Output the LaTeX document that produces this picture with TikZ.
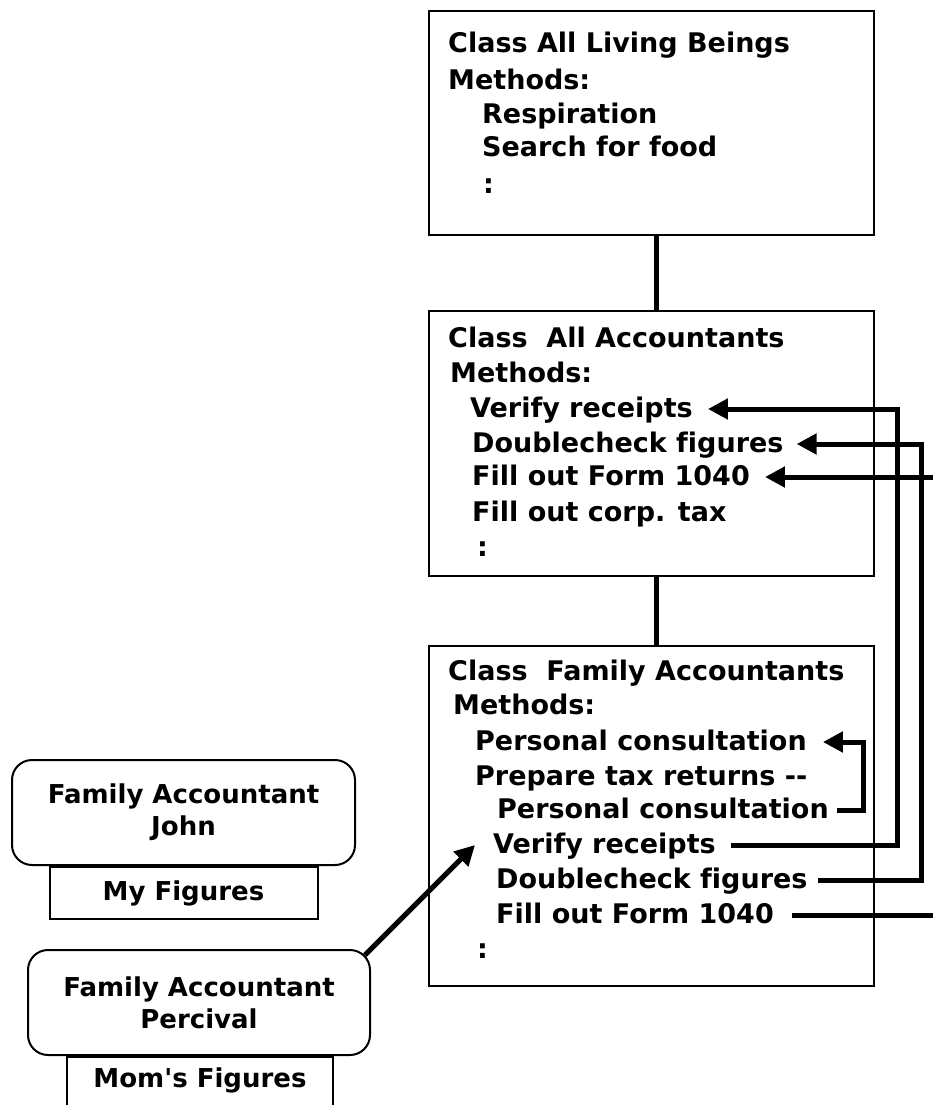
\documentclass[tikz,border=0pt]{standalone}
\usepackage{fontspec}
\newfontfamily\chifont{DejaVu Sans}[Ligatures=NoCommon]
\usetikzlibrary{arrows.meta,positioning}
\tikzset{
  classbox/.style={draw,line width=2.4pt,anchor=north west,inner sep=0pt},
  meth/.style={anchor=base west,inner sep=0pt,text height=20pt,text depth=4pt,
    font=\chifont\bfseries\fontsize{27}{32}\selectfont},
  objbox/.style={draw,line width=2pt,rounded corners=20pt,align=center,inner sep=0pt,
    font=\chifont\bfseries\fontsize{26}{32}\selectfont},
  figbox/.style={draw,line width=2pt,align=center,inner sep=0pt,
    font=\chifont\bfseries\fontsize{26}{32}\selectfont},
  figlbl/.style={inner sep=0pt,font=\chifont\bfseries\fontsize{26}{32}\selectfont},
  tie/.style={line width=5pt},
  call/.style={line width=5pt,-{Triangle[length=20pt,width=20pt]}},
}
\begin{document}
\begin{tikzpicture}[x=1pt,y=-1pt]
  \useasboundingbox (0,0) rectangle (932,1105);
  % class hierarchy
  \node[classbox,minimum width=445pt,minimum height=224pt](living) at (428,10){};
  \node[classbox,minimum width=445pt,minimum height=265pt](acct) at (428,310){};
  \node[classbox,minimum width=445pt,minimum height=340pt](family) at (428,645){};
  \draw[tie]([xshift=5pt]living.south)--([xshift=5pt]acct.north);
  \draw[tie]([xshift=5pt]acct.south)--([xshift=5pt]family.north);
  % All Living Beings
  \node[meth](lvname) at (448,53){Class All Living Beings};
  \node[meth](lvhead) at (448,90){Methods:};
  \node[meth](lvresp) at (482,124){Respiration};
  \node[meth](lvfood) at (482,157){Search for food};
  \node[meth](lvmore) at (483,193){:};
  % All Accountants
  \node[meth](acname) at (448,347){Class~ All Accountants};
  \node[meth](achead) at (450,382){Methods:};
  \node[meth](acverify) at (470,417){Verify receipts};
  \node[meth](acdouble) at (472,452){Doublecheck figures};
  \node[meth](acform) at (472,485){Fill out Form 1040};
  \node[meth](accorp) at (472,521){Fill out corp. tax};
  \node[meth](acmore) at (477,556){:};
  % Family Accountants
  \node[meth](faname) at (448,680){Class~ Family Accountants};
  \node[meth](fahead) at (453,714){Methods:};
  \node[meth](faconsult) at (475,750){Personal consultation};
  \node[meth](faprep) at (475,785){Prepare tax returns -{}-};
  \node[meth](fasub) at (497,818){Personal consultation};
  \node[meth](faverify) at (493,853){Verify receipts};
  \node[meth](fadouble) at (496,888){Doublecheck figures};
  \node[meth](faform) at (496,923){Fill out Form 1040};
  \node[meth](famore) at (477,958){:};
  % objects
  \node[objbox,minimum width=343pt,minimum height=105pt](john) at (183.5,812.5){Family Accountant\\John};
  \node[figbox,minimum width=268pt,minimum height=52pt,anchor=north](johnfig) at (john.south){My Figures};
  \node[objbox,minimum width=342pt,minimum height=105pt](percival) at (199,1002.5){Family Accountant\\Percival};
  \node[figbox,minimum width=266pt,minimum height=90pt,anchor=north](momfig) at ([xshift=1pt]percival.south){};
  \node[figlbl](momlbl) at ([yshift=-24pt]momfig.north){Mom's Figures};
  % method calls
  \coordinate(railv) at (897,0);
  \coordinate(raild) at (921,0);
  \coordinate(railp) at (863,0);
  \coordinate(edge) at (933,0);
  \draw[call]([xshift=8pt]fasub.east)-|(railp |- faconsult.east)--([xshift=16pt]faconsult.east);
  \draw[call]([xshift=15pt]faverify.east)-|(railv |- acverify.east)--([xshift=15pt]acverify.east);
  \draw[call]([xshift=10pt]fadouble.east)-|(raild |- acdouble.east)--([xshift=13pt]acdouble.east);
  \draw[tie]([xshift=18pt]faform.east)--(edge |- faform.east);
  \draw[call](edge |- acform.east)--([xshift=15pt]acform.east);
  \draw[call]([shift={(-6pt,-6pt)}]percival.north east)--([xshift=-18pt]faverify.west);
\end{tikzpicture}
\end{document}
